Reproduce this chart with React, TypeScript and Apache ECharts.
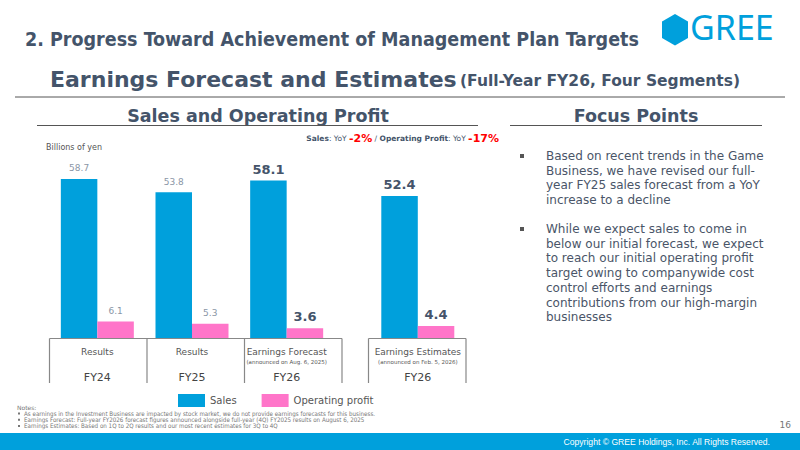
import React, { useEffect, useRef } from "react";
import * as echarts from "echarts";

const fyLabels1 = ["FY24", "FY25", "FY26"];
const kindLabels1 = ["Results", "Results", "Earnings Forecast"];
const noteLabels1 = [" ", " ", "(announced on Aug. 6, 2025)"];
const fyLabels2 = ["FY26"];
const kindLabels2 = ["Earnings Estimates"];
const noteLabels2 = ["(announced on Feb. 5, 2026)"];

const sales1 = [58.7, 53.8, 58.1];
const profit1 = [6.1, 5.3, 3.6];
const sales2 = [52.4];
const profit2 = [4.4];

const focusPara1 = [
  "Based on recent trends in the Game",
  "Business, we have revised our full-",
  "year FY25 sales forecast from a YoY",
  "increase to a decline",
];
const focusPara2 = [
  "While we expect sales to come in",
  "below our initial forecast, we expect",
  "to reach our initial operating profit",
  "target owing to companywide cost",
  "control efforts and earnings",
  "contributions from our high-margin",
  "businesses",
];
const notes = [
  "As earnings in the Investment Business are impacted by stock market, we do not provide earnings forecasts for this business.",
  "Earnings Forecast: Full-year FY2026 forecast figures announced alongside full-year (4Q) FY2025 results on August 6, 2025",
  "Earnings Estimates: Based on 1Q to 2Q results and our most recent estimates for 3Q to 4Q",
];

const BLUE = "#00A0DC";
const PINK = "#FF75C9";
const DARK = "#44546A";
const GRAY_LABEL = "#8A96A6";
const FONT = "DejaVu Sans";
const COND = "DejaVu Sans Condensed, DejaVu Sans";

export default function App() {
  const ref = useRef<HTMLDivElement>(null);
  useEffect(() => {
    if (!ref.current) return;
    const chart = echarts.init(ref.current, undefined, { renderer: "svg" });

    const barLabel = (bold: boolean) =>
      bold
        ? { show: true, position: "top", distance: 5, fontFamily: FONT, fontSize: 13, fontWeight: "bold", color: DARK }
        : { show: true, position: "top", distance: 6, fontFamily: FONT, fontSize: 9, color: GRAY_LABEL };

    const mkData = (vals: number[], boldFrom: number) =>
      vals.map((v, i) => ({ value: v, label: barLabel(i >= boldFrom) }));

    const axisRich = {
      k: { fontFamily: FONT, fontSize: 9, color: "#555", lineHeight: 14 },
      n: { fontFamily: FONT, fontSize: 5.5, color: "#555", lineHeight: 5 },
      f: { fontFamily: FONT, fontSize: 11, color: "#444", lineHeight: 26 },
    };
    const mkAxisLabel = (kinds: string[], nts: string[], fys: string[]) => ({
      margin: 7,
      interval: 0,
      formatter: (_v: string, i: number) => `{k|${kinds[i]}}\n{n|${nts[i]}}\n{f|${fys[i]}}`,
      rich: axisRich,
    });

    const graphics: any[] = [];
    // Headings
    graphics.push({
      type: "text", left: 25, top: 29,
      style: { text: "2. Progress Toward Achievement of Management Plan Targets", fontFamily: COND, fontWeight: "bold", fontSize: 19.5, fill: DARK },
    });
    graphics.push({
      type: "text", left: 50, top: 68,
      style: {
        text: "{a|Earnings Forecast and Estimates} {b|(Full-Year FY26, Four Segments)}",
        rich: {
          a: { fontFamily: FONT, fontWeight: "bold", fontSize: 22, fill: DARK },
          b: { fontFamily: FONT, fontWeight: "bold", fontSize: 15.5, fill: DARK, padding: [4, 0, 0, 0] },
        },
      },
    });
    graphics.push({ type: "line", shape: { x1: 15, y1: 97, x2: 785, y2: 97 }, style: { stroke: "#555", lineWidth: 1 } });
    // logo
    graphics.push({
      type: "polygon",
      shape: { points: [[675, 14], [688, 21.5], [688, 38], [675, 45.5], [662, 38], [662, 21.5]] },
      style: { fill: BLUE },
    });
    graphics.push({
      type: "text", left: 690, top: 10,
      style: { text: "GREE", fontFamily: "Noto Sans", fontSize: 34, fill: BLUE },
    });
    // section headings
    graphics.push({
      type: "text", x: 258, y: 116,
      style: { text: "Sales and Operating Profit", fontFamily: FONT, fontWeight: "bold", fontSize: 17.5, fill: DARK, align: "center", verticalAlign: "middle" },
    });
    graphics.push({ type: "line", shape: { x1: 37, y1: 125.5, x2: 478, y2: 125.5 }, style: { stroke: "#555", lineWidth: 1 } });
    graphics.push({
      type: "text", x: 636, y: 116,
      style: { text: "Focus Points", fontFamily: FONT, fontWeight: "bold", fontSize: 17.5, fill: DARK, align: "center", verticalAlign: "middle" },
    });
    graphics.push({ type: "line", shape: { x1: 510, y1: 125.5, x2: 762, y2: 125.5 }, style: { stroke: "#555", lineWidth: 1 } });
    // YoY
    graphics.push({
      type: "text", x: 499, y: 138,
      style: {
        text: "{b|Sales}{n|: YoY }{r|-2%}{n| / }{b|Operating Profit}{n|: YoY }{r|-17%}",
        align: "right", verticalAlign: "middle",
        rich: {
          b: { fontFamily: FONT, fontSize: 7.5, fontWeight: "bold", fill: DARK },
          n: { fontFamily: FONT, fontSize: 7.5, fill: DARK },
          r: { fontFamily: FONT, fontSize: 11, fontWeight: "bold", fill: "#FF0000" },
        },
      },
    });
    graphics.push({
      type: "text", left: 46, top: 143,
      style: { text: "Billions of yen", fontFamily: FONT, fontSize: 8, fill: "#555" },
    });
    // boxes under axis
    const boxEdges = [[49.5, 147, 244.5, 342], [368.5, 466]];
    boxEdges.forEach((edges) => {
      graphics.push({ type: "line", shape: { x1: edges[0], y1: 338.5, x2: edges[edges.length - 1], y2: 338.5 }, style: { stroke: "#888", lineWidth: 1.2 } });
      edges.forEach((x) => {
        graphics.push({ type: "line", shape: { x1: x, y1: 338.5, x2: x, y2: 383 }, style: { stroke: "#888", lineWidth: 1.2 } });
      });
    });
    // focus points
    const lh = 14.7;
    const drawPara = (lines: string[], y0: number) => {
      graphics.push({ type: "rect", shape: { x: 520, y: y0 - 2, width: 4, height: 4 }, style: { fill: "#555" } });
      lines.forEach((t, i) => {
        graphics.push({
          type: "text", x: 546, y: y0 + i * lh,
          style: { text: t, fontFamily: FONT, fontSize: 12, fill: "#4A5568", verticalAlign: "middle" },
        });
      });
    };
    drawPara(focusPara1, 156);
    drawPara(focusPara2, 229);
    // notes
    graphics.push({ type: "text", left: 17, top: 404, style: { text: "Notes:", fontFamily: FONT, fontSize: 6, fill: "#777" } });
    notes.forEach((t, i) => {
      graphics.push({ type: "rect", shape: { x: 18, y: 412.5 + i * 6.3, width: 2, height: 2 }, style: { fill: "#777" } });
      graphics.push({
        type: "text", left: 24, top: 410.3 + i * 6.3,
        style: { text: t, fontFamily: COND, fontSize: 6.2, fill: "#777" },
      });
    });
    graphics.push({ type: "text", x: 791, y: 425, style: { text: "16", fontFamily: FONT, fontSize: 9, fill: "#777", align: "right", verticalAlign: "middle" } });
    // footer
    graphics.push({ type: "rect", shape: { x: 0, y: 433, width: 800, height: 17 }, style: { fill: BLUE } });
    graphics.push({
      type: "text", x: 770, y: 442,
      style: { text: "Copyright © GREE Holdings, Inc. All Rights Reserved.", fontFamily: "Liberation Sans", fontSize: 8.6, fill: "#fff", align: "right", verticalAlign: "middle" },
    });

    const yMax = 60;
    chart.setOption({
      animation: false,
      backgroundColor: "#fff",
      grid: [
        { left: 50, width: 284, top: 175.4, bottom: 112, containLabel: false },
        { left: 370.5, width: 94.6, top: 175.4, bottom: 112, containLabel: false },
      ],
      xAxis: [
        {
          type: "category", gridIndex: 0, data: fyLabels1,
          axisLine: { show: false }, axisTick: { show: false },
          axisLabel: mkAxisLabel(kindLabels1, noteLabels1, fyLabels1),
        },
        {
          type: "category", gridIndex: 1, data: fyLabels2,
          axisLine: { show: false }, axisTick: { show: false },
          axisLabel: mkAxisLabel(kindLabels2, noteLabels2, fyLabels2),
        },
      ],
      yAxis: [
        { type: "value", gridIndex: 0, min: 0, max: yMax, show: false, splitLine: { show: false } },
        { type: "value", gridIndex: 1, min: 0, max: yMax, show: false, splitLine: { show: false } },
      ],
      legend: {
        data: ["Sales", "Operating profit"],
        left: 178, top: 394, padding: 0,
        itemWidth: 27, itemHeight: 13, itemGap: 25,
        icon: "rect",
        textStyle: { fontFamily: FONT, fontSize: 10, color: "#555" },
      },
      series: [
        { name: "Sales", type: "bar", xAxisIndex: 0, yAxisIndex: 0, data: mkData(sales1, 2), barWidth: 36.5, barGap: "0%", itemStyle: { color: BLUE } },
        { name: "Operating profit", type: "bar", xAxisIndex: 0, yAxisIndex: 0, data: mkData(profit1, 2), barWidth: 36.5, barGap: "0%", itemStyle: { color: PINK } },
        { name: "Sales", type: "bar", xAxisIndex: 1, yAxisIndex: 1, data: mkData(sales2, 0), barWidth: 36.5, barGap: "0%", itemStyle: { color: BLUE } },
        { name: "Operating profit", type: "bar", xAxisIndex: 1, yAxisIndex: 1, data: mkData(profit2, 0), barWidth: 36.5, barGap: "0%", itemStyle: { color: PINK } },
      ],
      graphic: graphics,
    });
    return () => chart.dispose();
  }, []);
  return <div ref={ref} style={{ position: "fixed", left: 0, top: 0, width: 800, height: 450 }} />;
}
